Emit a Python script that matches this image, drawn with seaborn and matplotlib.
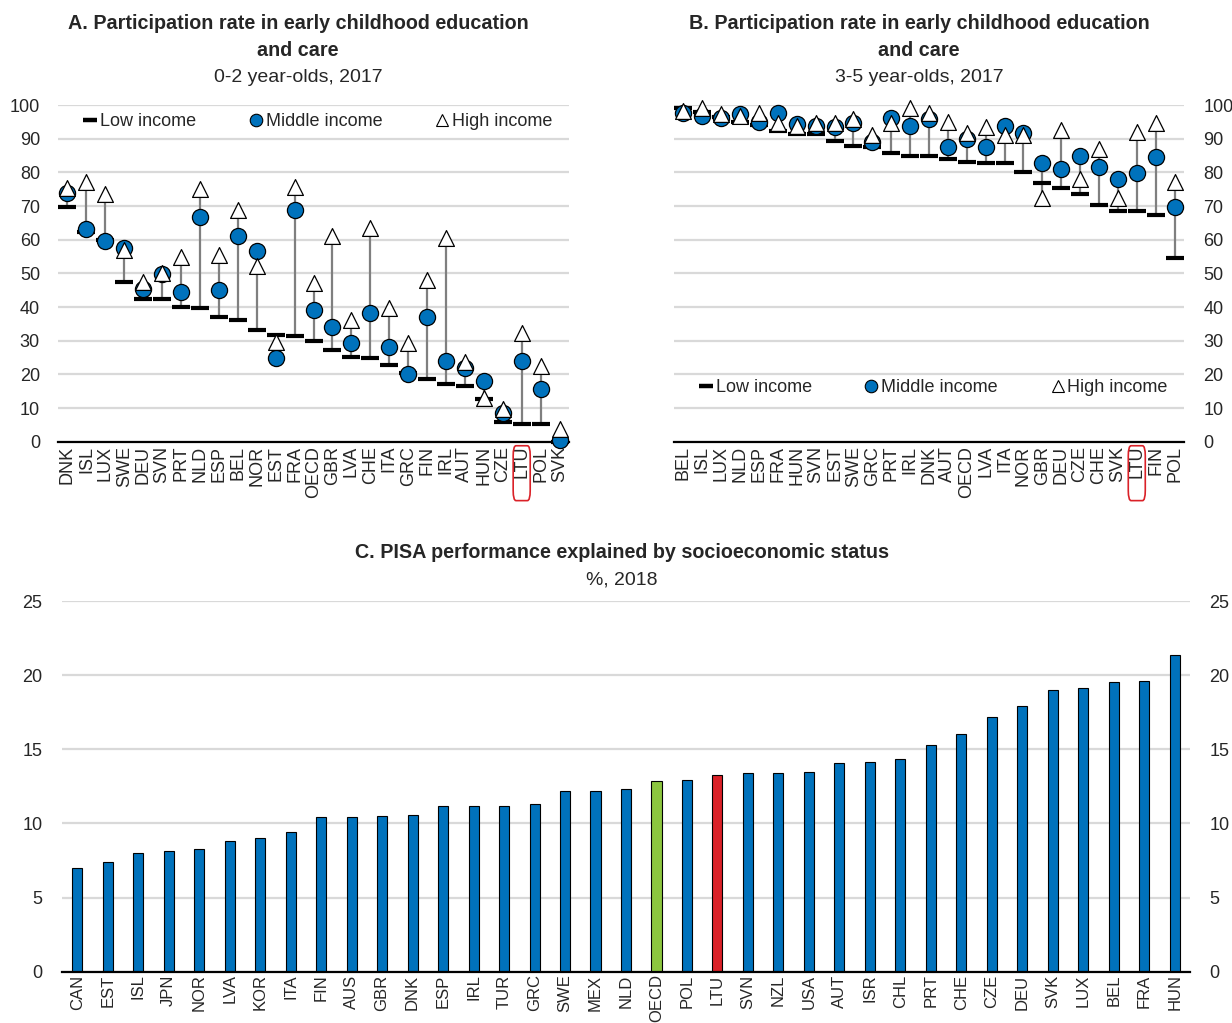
import matplotlib
matplotlib.use("Agg")
import matplotlib.pyplot as plt
from matplotlib.lines import Line2D
from matplotlib.patches import FancyBboxPatch
from matplotlib.transforms import blended_transform_factory
import numpy as np
import pandas as pd
import seaborn as sns

# Panel A: 0-2 year-olds, 2017
a_countries = ['DNK', 'ISL', 'LUX', 'SWE', 'DEU', 'SVN', 'PRT', 'NLD', 'ESP', 'BEL', 'NOR', 'EST', 'FRA', 'OECD',
               'GBR', 'LVA', 'CHE', 'ITA', 'GRC', 'FIN', 'IRL', 'AUT', 'HUN', 'CZE', 'LTU', 'POL', 'SVK']
a_low = [69.6, 62.3, 59.8, 47.5, 42.5, 42.3, 39.9, 39.7, 37.1, 36.2, 33.3, 31.6, 31.4, 29.8,
         27.2, 25.1, 24.8, 22.9, 20.3, 18.6, 17.2, 16.6, 12.6, 5.8, 5.4, 5.3, 0.0]
a_mid = [74.0, 63.2, 59.7, 57.4, 45.3, 49.8, 44.5, 66.8, 45.1, 61.0, 56.5, 25.0, 68.9, 39.2,
         34.2, 29.2, 38.3, 28.0, 20.1, 36.9, 24.1, 21.9, 18.0, 8.6, 24.1, 15.8, 0.5]
a_high = [75.3, 77.0, 73.6, 57.0, 47.4, 50.1, 55.0, 75.2, 55.5, 68.8, 52.1, 29.7, 75.7, 47.2,
          61.1, 36.0, 63.4, 39.6, 29.2, 48.0, 60.6, 23.8, 12.9, 9.6, 32.2, 22.5, 3.7]

# Panel B: 3-5 year-olds, 2017
b_countries = ['BEL', 'ISL', 'LUX', 'NLD', 'ESP', 'FRA', 'HUN', 'SVN', 'EST', 'SWE', 'GRC', 'PRT', 'IRL', 'DNK',
               'AUT', 'OECD', 'LVA', 'ITA', 'NOR', 'GBR', 'DEU', 'CZE', 'CHE', 'SVK', 'LTU', 'FIN', 'POL']
b_low = [99.0, 97.8, 96.3, 94.9, 94.1, 92.4, 91.3, 91.3, 89.4, 87.8, 87.6, 85.6, 85.0, 85.0,
         84.1, 83.2, 82.7, 82.7, 80.2, 76.7, 75.4, 73.6, 70.2, 68.6, 68.6, 67.3, 54.7]
b_mid = [97.7, 96.7, 96.0, 97.3, 95.0, 97.7, 94.5, 93.8, 93.4, 94.8, 89.1, 96.0, 93.8, 95.7,
         87.4, 90.0, 87.6, 93.8, 91.6, 82.9, 81.0, 85.0, 81.5, 78.1, 79.7, 84.5, 69.8]
b_high = [98.3, 99.0, 97.3, 96.7, 97.5, 94.8, 93.8, 94.8, 94.6, 95.7, 91.0, 94.8, 99.0, 97.7,
          95.0, 91.6, 93.6, 91.0, 91.0, 72.3, 92.6, 78.0, 86.8, 72.3, 92.1, 94.6, 77.0]

# Panel C: PISA performance explained by socioeconomic status, %, 2018
c_countries = ['CAN', 'EST', 'ISL', 'JPN', 'NOR', 'LVA', 'KOR', 'ITA', 'FIN', 'AUS', 'GBR', 'DNK', 'ESP',
               'IRL', 'TUR', 'GRC', 'SWE', 'MEX', 'NLD', 'OECD', 'POL', 'LTU', 'SVN', 'NZL', 'USA', 'AUT',
               'ISR', 'CHL', 'PRT', 'CHE', 'CZE', 'DEU', 'SVK', 'LUX', 'BEL', 'FRA', 'HUN']
c_values = [6.97, 7.37, 8.03, 8.16, 8.25, 8.84, 8.99, 9.44, 10.41, 10.41, 10.5, 10.57, 11.15,
            11.15, 11.2, 11.31, 12.16, 12.21, 12.3, 12.86, 12.95, 13.24, 13.38, 13.42, 13.44, 14.1,
            14.16, 14.32, 15.31, 16.03, 17.2, 17.92, 18.97, 19.15, 19.51, 19.58, 21.34]

BLUE = '#0072BC'
GREEN = '#8CC63F'
RED = '#DA2128'
GRID = '#D9D9D9'

sns.set_style('white')
plt.rcParams['font.family'] = ['Liberation Sans', 'DejaVu Sans']
plt.rcParams['axes.unicode_minus'] = False

fig = plt.figure(figsize=(12.32, 10.23), dpi=100)
ax_a = fig.add_axes([58 / 1232, 1 - 441.7 / 1023, 511 / 1232, 336.7 / 1023])
ax_b = fig.add_axes([674 / 1232, 1 - 441.7 / 1023, 510 / 1232, 336.7 / 1023])
ax_c = fig.add_axes([62 / 1232, 1 - 971.7 / 1023, 1128 / 1232, 370.7 / 1023])


def setup_cat_axis(ax, labels, ymax, ystep, xsize=13, xpad=3):
    n = len(labels)
    ax.set_xlim(-0.5, n - 0.5)
    ax.set_ylim(0, ymax)
    ax.set_yticks(np.arange(0, ymax + 0.1, ystep))
    ax.set_xticks(range(n))
    ax.set_xticklabels(labels, rotation=90, fontsize=xsize)
    ax.set_xticks(np.arange(-0.5, n, 1.0), minor=True)
    ax.tick_params(axis='x', which='major', length=0, pad=xpad)
    ax.tick_params(axis='x', which='minor', length=6, width=1.5, direction='in', color='black')
    ax.tick_params(axis='y', length=0, labelsize=13)
    ax.grid(axis='y', color=GRID, lw=1.6)
    ax.set_axisbelow(True)
    for s in ['top', 'left', 'right']:
        ax.spines[s].set_visible(False)
    ax.spines['bottom'].set_color('black')
    ax.spines['bottom'].set_linewidth(1.6)
    ax.set_xlabel('')
    ax.set_ylabel('')


def dumbbell(ax, countries, low, mid, high):
    df = pd.DataFrame({'country': countries, 'low': low, 'mid': mid, 'high': high})
    lo = df[['low', 'mid', 'high']].min(axis=1)
    hi = df[['low', 'mid', 'high']].max(axis=1)
    ax.vlines(range(len(df)), lo, hi, color='#7F7F7F', lw=1.6, zorder=2)
    sns.scatterplot(data=df, x='country', y='low', marker='_', s=180, linewidth=3.0,
                    color='black', ax=ax, zorder=3, clip_on=False)
    sns.scatterplot(data=df, x='country', y='mid', marker='o', s=135, color=BLUE,
                    edgecolor='black', linewidth=0.9, ax=ax, zorder=4, clip_on=False)
    sns.scatterplot(data=df, x='country', y='high', marker='^', s=130, color='white',
                    edgecolor='black', linewidth=0.9, ax=ax, zorder=5, clip_on=False)


def add_legend(ax, y):
    handles = [
        Line2D([], [], ls='none', marker='_', ms=10, mew=3.2, color='black'),
        Line2D([], [], ls='none', marker='o', ms=9, mfc=BLUE, mec='black', mew=0.8),
        Line2D([], [], ls='none', marker='^', ms=8, mfc='white', mec='black', mew=0.8),
    ]
    ax.legend(handles, ['Low income', 'Middle income', 'High income'], loc='center',
              bbox_to_anchor=(0.51, y), ncol=3, frameon=False, fontsize=13,
              handlelength=0.6, handletextpad=0.25, columnspacing=3.0)


def mark_ltu(ax, countries):
    i = countries.index('LTU')
    tr = blended_transform_factory(ax.transData, ax.transAxes)
    box = FancyBboxPatch((i - 0.45, -0.175), 0.9, 0.163, boxstyle='round,pad=0,rounding_size=0.15',
                         transform=tr, fill=False, edgecolor=RED, lw=1.2, clip_on=False,
                         mutation_aspect=0.2)
    ax.add_patch(box)


dumbbell(ax_a, a_countries, a_low, a_mid, a_high)
setup_cat_axis(ax_a, a_countries, 100, 10)
ax_a.tick_params(axis='y', pad=13)
add_legend(ax_a, 0.95)
mark_ltu(ax_a, a_countries)

dumbbell(ax_b, b_countries, b_low, b_mid, b_high)
setup_cat_axis(ax_b, b_countries, 100, 10)
ax_b.yaxis.tick_right()
ax_b.tick_params(axis='y', length=0, pad=14)
add_legend(ax_b, 0.16)
mark_ltu(ax_b, b_countries)

# Panel C bars
palette = {c: (GREEN if c == 'OECD' else RED if c == 'LTU' else BLUE) for c in c_countries}
sns.barplot(x=c_countries, y=c_values, hue=c_countries, palette=palette, legend=False,
            width=0.33, edgecolor='black', linewidth=0.8, saturation=1, ax=ax_c)
setup_cat_axis(ax_c, c_countries, 25, 5, xsize=12, xpad=2)
ax_c.tick_params(axis='y', labelleft=True, labelright=True, pad=14)

# Titles
fig.text(298 / 1232, 1 - 37 / 1023, 'A. Participation rate in early childhood education\nand care',
         ha='center', va='center', fontsize=14.2, fontweight='bold', linespacing=1.5)
fig.text(298 / 1232, 1 - 78 / 1023, '0-2 year-olds, 2017', ha='center', va='center', fontsize=14)
fig.text(919 / 1232, 1 - 37 / 1023, 'B. Participation rate in early childhood education\nand care',
         ha='center', va='center', fontsize=14.2, fontweight='bold', linespacing=1.5)
fig.text(919 / 1232, 1 - 78 / 1023, '3-5 year-olds, 2017', ha='center', va='center', fontsize=14)
fig.text(622 / 1232, 1 - 553 / 1023, 'C. PISA performance explained by socioeconomic status',
         ha='center', va='center', fontsize=14.2, fontweight='bold')
fig.text(622 / 1232, 1 - 580 / 1023, '%, 2018', ha='center', va='center', fontsize=14)

fig.savefig('out.png', dpi=100)
